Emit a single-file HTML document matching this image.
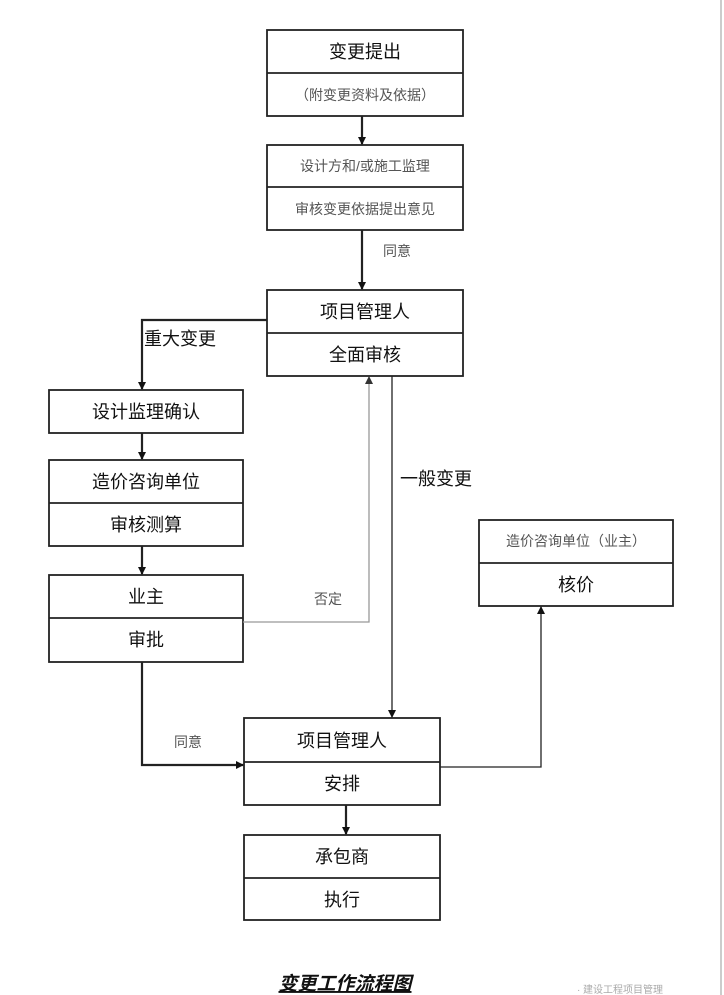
<!DOCTYPE html>
<html><head><meta charset="utf-8"><style>
html,body{margin:0;padding:0;background:#fff;}
svg{display:block;}
text{font-family:"Liberation Sans","Noto Sans CJK SC",sans-serif;fill:#111;text-anchor:middle;}
.s{font-size:14px;fill:#555;}
.m{font-size:18px;}
</style></head><body>
<svg width="724" height="995" viewBox="0 0 724 995" xmlns="http://www.w3.org/2000/svg">
<defs>
<marker id="a" markerWidth="8" markerHeight="8" refX="7" refY="4" orient="auto" markerUnits="userSpaceOnUse"><path d="M0,0L8,4L0,8z" fill="#111"/></marker>
<marker id="g" markerWidth="8" markerHeight="8" refX="7" refY="4" orient="auto" markerUnits="userSpaceOnUse"><path d="M0,0L8,4L0,8z" fill="#333"/></marker>
</defs>
<g fill="none" stroke="#222" stroke-width="1.8">
<rect x="267" y="30" width="196" height="86"/><line x1="267" y1="73" x2="463" y2="73"/>
<rect x="267" y="145" width="196" height="85"/><line x1="267" y1="187" x2="463" y2="187"/>
<rect x="267" y="290" width="196" height="86"/><line x1="267" y1="333" x2="463" y2="333"/>
<rect x="49" y="390" width="194" height="43"/>
<rect x="49" y="460" width="194" height="86"/><line x1="49" y1="503" x2="243" y2="503"/>
<rect x="49" y="575" width="194" height="87"/><line x1="49" y1="618" x2="243" y2="618"/>
<rect x="479" y="520" width="194" height="86"/><line x1="479" y1="563" x2="673" y2="563"/>
<rect x="244" y="718" width="196" height="87"/><line x1="244" y1="762" x2="440" y2="762"/>
<rect x="244" y="835" width="196" height="85"/><line x1="244" y1="878" x2="440" y2="878"/>
</g>
<g fill="none" stroke="#222" stroke-width="2.2">
<line x1="362" y1="116" x2="362" y2="144" marker-end="url(#a)"/>
<line x1="362" y1="230" x2="362" y2="289" marker-end="url(#a)"/>
<polyline points="267,320 142,320 142,389" marker-end="url(#a)"/>
<line x1="142" y1="433" x2="142" y2="459" marker-end="url(#a)"/>
<line x1="142" y1="546" x2="142" y2="574" marker-end="url(#a)"/>
<polyline points="142,662 142,765 243,765" marker-end="url(#a)"/>
<line x1="346" y1="805" x2="346" y2="834" marker-end="url(#a)"/>
</g>
<g fill="none" stroke-width="1.3">
<polyline points="243,622 369,622 369,377" stroke="#999" marker-end="url(#g)"/>
<line x1="392" y1="376" x2="392" y2="717" stroke="#222" marker-end="url(#a)"/>
<polyline points="440,767 541,767 541,607" stroke="#222" marker-end="url(#a)"/>
<line x1="721" y1="0" x2="721" y2="995" stroke="#ccc" stroke-width="2"/>
</g>
<text class="m" x="365" y="58">变更提出</text>
<text class="s" x="365" y="100">（附变更资料及依据）</text>
<text class="s" x="365" y="171">设计方和/或施工监理</text>
<text class="s" x="365" y="214">审核变更依据提出意见</text>
<text class="s" x="397" y="256">同意</text>
<text class="m" x="365" y="318">项目管理人</text>
<text class="m" x="365" y="361">全面审核</text>
<text class="m" x="180" y="345">重大变更</text>
<text class="m" x="146" y="418">设计监理确认</text>
<text class="m" x="146" y="488">造价咨询单位</text>
<text class="m" x="146" y="531">审核测算</text>
<text class="m" x="146" y="603">业主</text>
<text class="m" x="146" y="646">审批</text>
<text class="s" x="328" y="604">否定</text>
<text class="m" x="436" y="485">一般变更</text>
<text class="s" x="576" y="546">造价咨询单位（业主）</text>
<text class="m" x="576" y="591">核价</text>
<text class="s" x="188" y="747">同意</text>
<text class="m" x="342" y="747">项目管理人</text>
<text class="m" x="342" y="790">安排</text>
<text class="m" x="342" y="863">承包商</text>
<text class="m" x="342" y="906">执行</text>
<text x="345" y="990" style="font-size:19px;font-weight:bold;font-style:italic;text-decoration:underline">变更工作流程图</text>
<text x="620" y="993" style="font-size:10px;fill:#aaa">· 建设工程项目管理</text>
</svg>
</body></html>
